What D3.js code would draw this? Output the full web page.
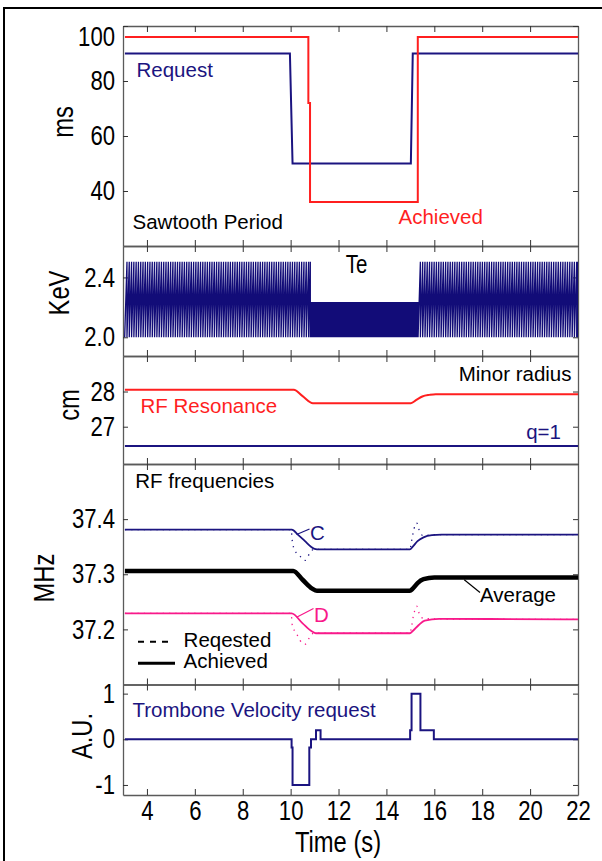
<!DOCTYPE html>
<html>
<head>
<meta charset="utf-8">
<script src="https://cdn.jsdelivr.net/npm/d3@7"></script>
<style>
  body { margin: 0; background: #fff; }
  svg text { font-family: "Liberation Sans", Arial, sans-serif; }
  .tick text { font-size: 27px; fill: #000; }
  .tick line { stroke: #333; }
  .domain { stroke: #5a5a5a; stroke-width: 1.3; }
  .lbl { font-size: 20.5px; }
  .ttl { font-size: 29px; }
</style>
</head>
<body>
<div id="chart"></div>
<script>
  // ---- data ----
  const timeTicks = [4, 6, 8, 10, 12, 14, 16, 18, 20, 22];
  const periodTicks = [40, 60, 80, 100];
  const teTicks = [2.0, 2.4];
  const radiusTicks = [27, 28];
  const freqTicks = [37.2, 37.3, 37.4];
  const velTicks = [-1, 0, 1];

  // sawtooth period, ms
  const periodRequest = [[3.08, 90], [9.97, 90], [10.08, 50], [15.02, 50], [15.1, 90], [22, 90]];
  const periodAchieved = [[3.08, 96], [10.74, 96], [10.74, 72], [10.81, 72], [10.81, 36],
    [15.31, 36], [15.31, 96], [22, 96]];

  // central Te, keV: crash level and peak level by phase
  const teStart = 3.07;
  const teBase = 2.0;
  const tePeak = [[3.07, 2.505], [10.77, 2.235], [15.32, 2.505]];

  // minor radius, cm
  const rfResonance = [[3.08, 28.05], [10.13, 28.05], [10.5, 27.87], [10.93, 27.67], [15.02, 27.67],
    [15.25, 27.76], [15.5, 27.86], [15.8, 27.905], [16.06, 27.925], [22, 27.925]];
  const qOne = [[3.08, 26.45], [22, 26.45]];

  // RF frequencies, MHz
  const freqC = [[3.08, 37.381], [10.05, 37.381], [10.3, 37.372], [10.6, 37.36], [10.85, 37.35],
    [11.0, 37.346], [11.2, 37.345], [14.98, 37.345], [15.1, 37.35], [15.3, 37.36], [15.55, 37.367],
    [15.9, 37.371], [16.3, 37.372], [22, 37.372]];
  const freqCReq = [[3.08, 37.381], [10.02, 37.381], [10.07, 37.36], [10.18, 37.343], [10.39, 37.333],
    [10.6, 37.325], [10.8, 37.338], [10.95, 37.345], [14.98, 37.345], [15.05, 37.36], [15.12, 37.376],
    [15.19, 37.388], [15.26, 37.393], [15.4, 37.376], [15.54, 37.37], [16.0, 37.372], [22, 37.372]];
  const freqAvg = [[3.08, 37.306], [10.11, 37.306], [10.5, 37.29], [10.9, 37.274], [11.1, 37.27],
    [14.98, 37.27], [15.1, 37.274], [15.3, 37.284], [15.55, 37.291], [16.0, 37.294], [22, 37.294]];
  const freqD = [[3.08, 37.229], [10.04, 37.229], [10.5, 37.211], [10.9, 37.196], [11.05, 37.193],
    [14.98, 37.193], [15.1, 37.197], [15.35, 37.208], [15.6, 37.216], [16.2, 37.219], [22, 37.218]];
  const freqDReq = [[3.08, 37.229], [10.02, 37.229], [10.07, 37.207], [10.25, 37.192], [10.39, 37.18],
    [10.6, 37.173], [10.8, 37.186], [10.95, 37.193], [14.98, 37.193], [15.05, 37.205], [15.12, 37.223],
    [15.19, 37.235], [15.26, 37.242], [15.4, 37.225], [15.54, 37.22], [16.0, 37.219], [22, 37.218]];

  // trombone velocity request, A.U.
  const trombone = [[3.08, 0], [10.04, 0], [10.04, -0.18], [10.08, -0.18], [10.08, -1], [10.78, -1],
    [10.78, -0.18], [10.85, -0.18], [10.85, 0], [11.06, 0], [11.06, 0.2], [11.25, 0.2], [11.25, 0],
    [14.99, 0], [14.99, 0.2], [15.05, 0.2], [15.05, 1], [15.42, 1], [15.42, 0.2], [15.98, 0.2],
    [15.98, 0], [22, 0]];

  // ---- layout ----
  const W = 602;
  const H = 861;
  const left = 123;
  const right = 578;
  const narrow = 0.82; // squeeze to look like a condensed face
  const navy = '#1b1480';
  const red = '#ff1f1f';
  const pink = '#f8198a';

  const svg = d3.select('#chart').append('svg')
    .attr('width', W)
    .attr('height', H);

  // outer frame
  svg.append('path')
    .attr('d', `M4,${H}V8H${W}`)
    .attr('fill', 'none')
    .attr('stroke', '#000')
    .attr('stroke-width', 2);

  const x = d3.scaleLinear().domain([3, 22]).range([left, right]);

  const panels = [
    { top: 26, bottom: 246, domain: [20, 100], ticks: periodTicks, fmt: String, title: 'ms', tx: 73, ty: 122 },
    { top: 246, bottom: 356, domain: [1.875, 2.61], ticks: teTicks, fmt: d3.format('.1f'), title: 'KeV', tx: 69, ty: 293 },
    { top: 356, bottom: 464, domain: [25.94, 29.01], ticks: radiusTicks, fmt: String, title: 'cm', tx: 78.5, ty: 405 },
    { top: 464, bottom: 684.5, domain: [37.1, 37.5], ticks: freqTicks, fmt: d3.format('.1f'), title: 'MHz', tx: 54, ty: 578 },
    { top: 684.5, bottom: 795, domain: [-1.22, 1.2], ticks: velTicks, fmt: String, title: 'A.U.', tx: 92, ty: 736 },
  ];

  panels.forEach((p, i) => {
    p.y = d3.scaleLinear().domain(p.domain).range([p.bottom, p.top]);
    const g = svg.append('g').attr('class', 'panel');

    g.append('g')
      .attr('transform', `translate(0,${p.top})`)
      .call(d3.axisTop(x).tickValues(timeTicks).tickSize(-6).tickSizeOuter(0).tickFormat(''));

    const bottom = d3.axisBottom(x).tickValues(timeTicks).tickSize(-6).tickSizeOuter(0).tickPadding(6);
    if (i < panels.length - 1) bottom.tickFormat('');
    g.append('g')
      .attr('transform', `translate(0,${p.bottom})`)
      .call(bottom)
      .selectAll('.tick text')
      .attr('transform', `scale(${narrow},1)`);

    g.append('g')
      .attr('transform', `translate(${right},0)`)
      .call(d3.axisRight(p.y).tickValues(p.ticks).tickSize(-5).tickSizeOuter(0).tickFormat(''));

    const la = g.append('g')
      .attr('transform', `translate(${left},0)`)
      .call(d3.axisLeft(p.y).tickValues(p.ticks).tickSize(-5).tickSizeOuter(0).tickPadding(8).tickFormat(p.fmt));
    la.selectAll('.tick text')
      .attr('x', -8 / narrow)
      // keep a label sitting on the top edge inside the panel
      .attr('transform', (d) => (p.y(d) <= p.top + 1 ? 'translate(0,11) ' : '') + `scale(${narrow},1)`);

    svg.append('text')
      .attr('class', 'ttl')
      .attr('transform', `translate(${p.tx},${p.ty}) rotate(-90) scale(${narrow},1)`)
      .attr('text-anchor', 'middle')
      .text(p.title);

    svg.append('clipPath').attr('id', `clip${i}`)
      .append('rect')
      .attr('x', left).attr('y', p.top)
      .attr('width', right - left).attr('height', p.bottom - p.top);
    p.plot = svg.append('g').attr('clip-path', `url(#clip${i})`);
  });

  const lineIn = (p, curve) => d3.line()
    .x((d) => x(d[0]))
    .y((d) => p.y(d[1]))
    .curve(curve || d3.curveLinear);

  function stepAt(series, t) {
    let v = series[0][1];
    series.forEach(([ti, vi]) => { if (ti <= t) v = vi; });
    return v;
  }

  function label(txt, px, py, color, anchor) {
    return svg.append('text')
      .attr('class', 'lbl')
      .attr('x', px)
      .attr('y', py)
      .attr('fill', color || '#000')
      .attr('text-anchor', anchor || 'start')
      .text(txt);
  }

  // ---- panel 1: sawtooth period ----
  const p1 = panels[0];
  p1.plot.append('path').datum(periodRequest)
    .attr('d', lineIn(p1)).attr('fill', 'none').attr('stroke', navy).attr('stroke-width', 2);
  p1.plot.append('path').datum(periodAchieved)
    .attr('d', lineIn(p1)).attr('fill', 'none').attr('stroke', red).attr('stroke-width', 2);
  label('Request', 136.5, 77, navy);
  label('Sawtooth Period', 132.5, 228.5);
  label('Achieved', 398.5, 224, red);

  // ---- panel 2: Te sawtooth, crash times follow the achieved period ----
  const p2 = panels[1];
  const teeth = [];
  let t = teStart;
  while (t < 22) {
    const per = stepAt(periodAchieved, t) / 1000;
    const t1 = Math.min(t + per, 22);
    const peak = stepAt(tePeak, t);
    teeth.push([t, teBase], [t1, peak], [t1, teBase]);
    t = t1;
  }
  p2.plot.append('path').datum(teeth)
    .attr('d', lineIn(p2)).attr('fill', 'none').attr('stroke', '#120c78').attr('stroke-width', 1.3);
  svg.append('text')
    .style('font-size', '25px')
    .attr('transform', `translate(356.5,273) scale(${narrow},1)`)
    .attr('text-anchor', 'middle')
    .text('Te');

  // ---- panel 3: minor radius ----
  const p3 = panels[2];
  p3.plot.append('path').datum(rfResonance)
    .attr('d', lineIn(p3, d3.curveMonotoneX)).attr('fill', 'none').attr('stroke', red).attr('stroke-width', 2);
  p3.plot.append('path').datum(qOne)
    .attr('d', lineIn(p3)).attr('fill', 'none').attr('stroke', navy).attr('stroke-width', 2);
  label('Minor radius', 571.5, 380.5, '#000', 'end');
  label('RF Resonance', 140.5, 413.3, red);
  label('q=1', 561, 439.3, navy, 'end');

  // ---- panel 4: RF frequencies ----
  const p4 = panels[3];
  const curve = d3.curveMonotoneX;
  [[freqCReq, navy], [freqDReq, pink]].forEach(([s, c]) => {
    p4.plot.append('path').datum(s)
      .attr('d', lineIn(p4, curve)).attr('fill', 'none').attr('stroke', c)
      .attr('stroke-width', 1.3).attr('stroke-dasharray', '1.3,5');
  });
  p4.plot.append('path').datum(freqC)
    .attr('d', lineIn(p4, curve)).attr('fill', 'none').attr('stroke', navy).attr('stroke-width', 1.8);
  p4.plot.append('path').datum(freqD)
    .attr('d', lineIn(p4, curve)).attr('fill', 'none').attr('stroke', pink).attr('stroke-width', 1.8);
  p4.plot.append('path').datum(freqAvg)
    .attr('d', lineIn(p4, curve)).attr('fill', 'none').attr('stroke', '#000').attr('stroke-width', 4.5);

  label('RF frequencies', 135.2, 488.3);
  // leader lines
  svg.append('line').attr('x1', x(10.25)).attr('y1', p4.y(37.372)).attr('x2', 309.5).attr('y2', 529)
    .attr('stroke', navy).attr('stroke-width', 1.2);
  label('C', 310, 540, navy);
  svg.append('line').attr('x1', x(10.25)).attr('y1', p4.y(37.222)).attr('x2', 313.5).attr('y2', 608.5)
    .attr('stroke', pink).attr('stroke-width', 1.2);
  label('D', 314, 621.7, pink);
  svg.append('line').attr('x1', x(17.25)).attr('y1', p4.y(37.29)).attr('x2', 480).attr('y2', 592.5)
    .attr('stroke', '#000').attr('stroke-width', 1.2);
  label('Average', 480, 601.7);

  // legend
  svg.append('line').attr('x1', 138).attr('x2', 170).attr('y1', 641.7).attr('y2', 641.7)
    .attr('stroke', '#000').attr('stroke-width', 2).attr('stroke-dasharray', '6,6');
  label('Reqested', 183.6, 646.7);
  svg.append('line').attr('x1', 138).attr('x2', 175).attr('y1', 663.3).attr('y2', 663.3)
    .attr('stroke', '#000').attr('stroke-width', 3);
  label('Achieved', 183.6, 668.3);

  // ---- panel 5: trombone velocity ----
  const p5 = panels[4];
  p5.plot.append('path').datum(trombone)
    .attr('d', lineIn(p5)).attr('fill', 'none').attr('stroke', navy).attr('stroke-width', 2);
  label('Trombone Velocity request', 132.5, 716.7, navy);

  svg.append('text')
    .attr('class', 'ttl')
    .attr('transform', `translate(338,851.5) scale(${narrow},1)`)
    .attr('text-anchor', 'middle')
    .text('Time (s)');
</script>
</body>
</html>
